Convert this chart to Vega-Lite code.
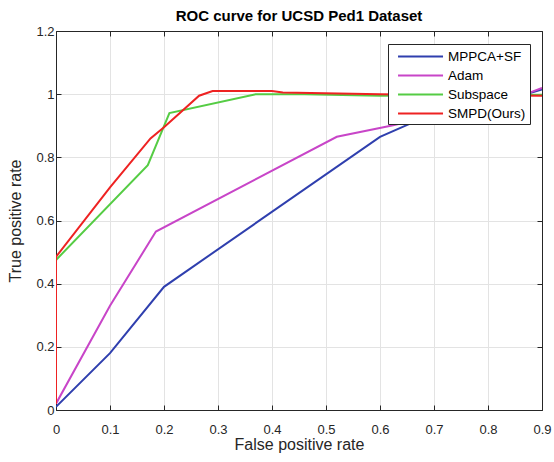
{
  "$schema": "https://vega.github.io/schema/vega-lite/v6.json",
  "width": 486,
  "height": 379,
  "autosize": {"type": "none"},
  "padding": {"left": 56, "top": 31, "right": 12, "bottom": 52},
  "background": "white",
  "title": {"text": "ROC curve for UCSD Ped1 Dataset", "font": "Liberation Sans", "fontSize": 15, "fontWeight": "bold", "color": "#000000", "anchor": "middle", "offset": 1},
  "config": {
    "view": {"stroke": null},
    "font": "Liberation Sans"
  },
  "data": {"values": [
    {"method": "MPPCA+SF", "i": 0, "fpr": 0.0, "tpr": 0.01},
    {"method": "MPPCA+SF", "i": 1, "fpr": 0.1, "tpr": 0.18},
    {"method": "MPPCA+SF", "i": 2, "fpr": 0.2, "tpr": 0.39},
    {"method": "MPPCA+SF", "i": 3, "fpr": 0.6, "tpr": 0.865},
    {"method": "MPPCA+SF", "i": 4, "fpr": 0.66, "tpr": 0.91},
    {"method": "MPPCA+SF", "i": 5, "fpr": 0.75, "tpr": 0.96},
    {"method": "MPPCA+SF", "i": 6, "fpr": 0.87, "tpr": 1.0},
    {"method": "MPPCA+SF", "i": 7, "fpr": 0.9, "tpr": 1.015},
    {"method": "Adam", "i": 0, "fpr": 0.0, "tpr": 0.02},
    {"method": "Adam", "i": 1, "fpr": 0.1, "tpr": 0.33},
    {"method": "Adam", "i": 2, "fpr": 0.185, "tpr": 0.565},
    {"method": "Adam", "i": 3, "fpr": 0.52, "tpr": 0.865},
    {"method": "Adam", "i": 4, "fpr": 0.62, "tpr": 0.9},
    {"method": "Adam", "i": 5, "fpr": 0.75, "tpr": 0.95},
    {"method": "Adam", "i": 6, "fpr": 0.87, "tpr": 1.0},
    {"method": "Adam", "i": 7, "fpr": 0.9, "tpr": 1.02},
    {"method": "Subspace", "i": 0, "fpr": 0.0, "tpr": 0.475},
    {"method": "Subspace", "i": 1, "fpr": 0.17, "tpr": 0.775},
    {"method": "Subspace", "i": 2, "fpr": 0.21, "tpr": 0.94},
    {"method": "Subspace", "i": 3, "fpr": 0.37, "tpr": 1.0},
    {"method": "Subspace", "i": 4, "fpr": 0.46, "tpr": 1.0},
    {"method": "Subspace", "i": 5, "fpr": 0.6, "tpr": 0.995},
    {"method": "Subspace", "i": 6, "fpr": 0.9, "tpr": 0.998},
    {"method": "SMPD(Ours)", "i": 0, "fpr": 0.0, "tpr": 0.02},
    {"method": "SMPD(Ours)", "i": 1, "fpr": 0.0, "tpr": 0.485},
    {"method": "SMPD(Ours)", "i": 2, "fpr": 0.1, "tpr": 0.705},
    {"method": "SMPD(Ours)", "i": 3, "fpr": 0.175, "tpr": 0.86},
    {"method": "SMPD(Ours)", "i": 4, "fpr": 0.2, "tpr": 0.895},
    {"method": "SMPD(Ours)", "i": 5, "fpr": 0.265, "tpr": 0.995},
    {"method": "SMPD(Ours)", "i": 6, "fpr": 0.29, "tpr": 1.01},
    {"method": "SMPD(Ours)", "i": 7, "fpr": 0.4, "tpr": 1.01},
    {"method": "SMPD(Ours)", "i": 8, "fpr": 0.42, "tpr": 1.005},
    {"method": "SMPD(Ours)", "i": 9, "fpr": 0.6, "tpr": 1.0},
    {"method": "SMPD(Ours)", "i": 10, "fpr": 0.9, "tpr": 0.995}
  ]},
  "layer": [
    {
      "mark": {"type": "line", "strokeWidth": 2, "clip": true},
      "encoding": {
        "x": {"field": "fpr", "type": "quantitative", "scale": {"domain": [0, 0.9], "nice": false, "zero": false},
          "axis": {"title": "False positive rate", "titleFontSize": 16, "titleFontWeight": "normal", "titleColor": "#262626", "titlePadding": 0,
            "values": [0, 0.1, 0.2, 0.3, 0.4, 0.5, 0.6, 0.7, 0.8, 0.9], "format": "~g", "labelFontSize": 13, "labelColor": "#262626", "labelPadding": 18,
            "tickSize": -5, "tickColor": "#262626", "domainColor": "#262626", "grid": true, "gridColor": "#e3e3e3", "labelFlush": false}},
        "y": {"field": "tpr", "type": "quantitative", "scale": {"domain": [0, 1.2], "nice": false, "zero": false},
          "axis": {"title": "True positive rate", "titleFontSize": 16, "titleFontWeight": "normal", "titleColor": "#262626", "titlePadding": 12,
            "values": [0, 0.2, 0.4, 0.6, 0.8, 1, 1.2], "format": "~g", "labelFontSize": 13, "labelColor": "#262626", "labelPadding": 7,
            "tickSize": -5, "tickColor": "#262626", "domainColor": "#262626", "grid": true, "gridColor": "#e3e3e3", "labelFlush": false}},
        "color": {"field": "method", "type": "nominal",
          "scale": {"domain": ["MPPCA+SF", "Adam", "Subspace", "SMPD(Ours)"], "range": ["#2f3fae", "#c845c8", "#55cc44", "#ee2222"]},
          "legend": {"title": null, "orient": "none", "legendX": 332, "legendY": 13, "symbolType": "M-0.33,0H5.67", "symbolSize": 225, "symbolStrokeWidth": 2,
            "labelFontSize": 13.5, "labelColor": "#000000", "strokeColor": "#262626", "fillColor": "white", "padding": 4, "rowPadding": 4, "labelOffset": 39}},
        "order": {"field": "i", "type": "quantitative"}
      }
    },
    {
      "mark": {"type": "line", "strokeOpacity": 0},
      "encoding": {
        "x": {"field": "fpr", "type": "quantitative", "scale": {"domain": [0, 0.9], "nice": false, "zero": false},
          "axis": {"orient": "top", "title": null, "labels": false, "values": [0, 0.1, 0.2, 0.3, 0.4, 0.5, 0.6, 0.7, 0.8, 0.9], "tickSize": -5, "tickColor": "#262626", "domainColor": "#262626", "grid": false}},
        "y": {"field": "tpr", "type": "quantitative", "scale": {"domain": [0, 1.2], "nice": false, "zero": false},
          "axis": {"orient": "right", "title": null, "labels": false, "values": [0, 0.2, 0.4, 0.6, 0.8, 1, 1.2], "tickSize": -5, "tickColor": "#262626", "domainColor": "#262626", "grid": false}},
        "detail": {"field": "method"}
      }
    }
  ],
  "resolve": {"axis": {"x": "independent", "y": "independent"}}
}
